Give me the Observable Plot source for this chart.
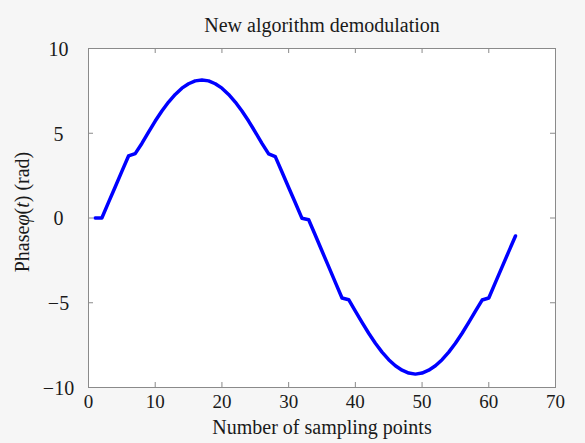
<!DOCTYPE html>
<html><head><meta charset="utf-8">
<script src="https://cdn.jsdelivr.net/npm/d3@7"></script>
<script src="https://cdn.jsdelivr.net/npm/@observablehq/plot@0.6"></script>
<style>
html,body{margin:0;padding:0;background:#f6f6f6;}
</style></head><body><div id="chart"></div>
<script>
const samples = [1,2,3,4,5,6,7,8,9,10,11,12,13,14,15,16,17,18,19,20,21,22,23,24,25,26,27,28,29,30,31,32,
  33,34,35,36,37,38,39,40,41,42,43,44,45,46,47,48,49,50,51,52,53,54,55,56,57,58,59,60,61,62,63,64];
const phase = [0,0,0.92,1.83,2.75,3.66,3.80,4.40,5.07,5.72,6.31,6.84,7.29,7.66,7.92,8.09,8.14,8.09,7.92,7.66,
  7.29,6.84,6.31,5.72,5.07,4.40,3.78,3.62,2.71,1.80,0.90,-0.02,-0.10,-1.02,-1.95,-2.87,-3.80,-4.72,-4.82,
  -5.49,-6.16,-6.80,-7.39,-7.91,-8.36,-8.72,-8.98,-9.15,-9.21,-9.15,-8.98,-8.72,-8.36,-7.91,-7.39,-6.80,
  -6.16,-5.49,-4.84,-4.72,-3.80,-2.88,-1.97,-1.06];
const xTicks = [0,10,20,30,40,50,60,70];
const yTicks = [-10,-5,0,5,10];
const title = "New algorithm demodulation";
const xLabel = "Number of sampling points";
const yLabel = "Phaseφ(t) (rad)";

const data = samples.map((s, i) => ({x: s, y: phase[i]}));
const W = 585, H = 443, mL = 88, mR = 30, mT = 48, mB = 56;
const fw = W - mL - mR, fh = H - mT - mB;
const axisColor = "#8a8a8a";
const textColor = "#1a1a1a";

const chart = Plot.plot({
  width: W, height: H,
  marginLeft: mL, marginRight: mR, marginTop: mT, marginBottom: mB,
  style: {background: "#f6f6f6", fontFamily: "'Liberation Serif', 'Times New Roman', serif", fontSize: "20px", color: textColor},
  x: {domain: [0, 70]},
  y: {domain: [-10, 10]},
  marks: [
    Plot.frame({fill: "white", stroke: null}),
    Plot.tickX(xTicks, {x: d => d, insetTop: fh - 5, stroke: axisColor}),
    Plot.tickX(xTicks, {x: d => d, insetBottom: fh - 5, stroke: axisColor}),
    Plot.tickY(yTicks, {y: d => d, insetRight: fw - 5, stroke: axisColor}),
    Plot.tickY(yTicks, {y: d => d, insetLeft: fw - 5, stroke: axisColor}),
    Plot.axisX({ticks: xTicks, tickSize: 0, tickPadding: 7, fontSize: 19, label: null, fill: textColor}),
    Plot.axisY({ticks: yTicks, tickSize: 0, tickPadding: 30, textAnchor: "middle", dy: 1, label: null, fill: textColor}),
    Plot.line(data, {x: "x", y: "y", stroke: "#0000ff", strokeWidth: 3.5, strokeLinejoin: "round", strokeLinecap: "round"}),
    Plot.frame({stroke: axisColor}),
    Plot.text([title], {frameAnchor: "top", lineAnchor: "bottom", dy: -17, fill: textColor}),
    Plot.text([xLabel], {frameAnchor: "bottom", lineAnchor: "bottom", dy: 46, fill: textColor}),
    Plot.text([yLabel], {frameAnchor: "left", textAnchor: "middle", rotate: -90, dx: -66, dy: -6, fill: textColor})
  ]
});
document.getElementById("chart").appendChild(chart);

// italicise φ and t in the y-axis label
d3.select(chart).selectAll("text").filter(function() { return this.textContent === yLabel; }).each(function() {
  const t = d3.select(this);
  t.text(null);
  t.append("tspan").text("Phase");
  t.append("tspan").attr("font-style", "italic").text("φ");
  t.append("tspan").text("(");
  t.append("tspan").attr("font-style", "italic").text("t");
  t.append("tspan").text(") (rad)");
});
</script></body></html>
